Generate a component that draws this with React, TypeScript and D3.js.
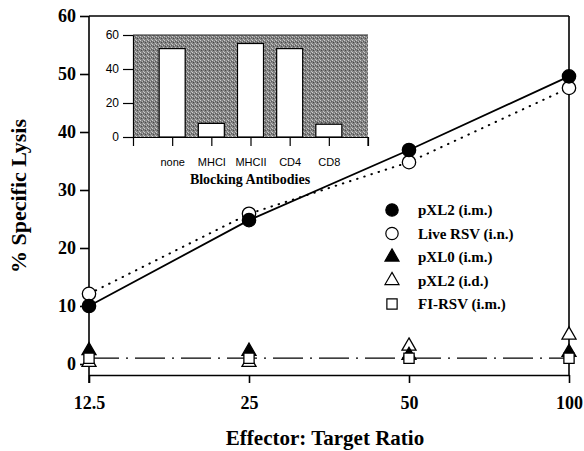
import { useEffect, useRef } from "react"
import * as d3 from "d3"

const ratios = [12.5, 25, 50, 100]
const pxl2Im = [10, 24.8, 36.9, 49.6]
const liveRsv = [12.1, 25.9, 34.8, 47.6]
const pxl0Im = [2.3, 2.2, 1.5, 2.0]
const pxl2Id = [0.3, 0.3, 3.1, 5.0]
const fiRsv = [1, 1, 1, 1]

const yTicks = [0, 10, 20, 30, 40, 50, 60]

const blockers = ["none", "MHCI", "MHCII", "CD4", "CD8"]
const blockLysis = [52, 8, 55, 52, 7.5]
const insetTicks = [0, 20, 40, 60]

const legendNames = ["pXL2 (i.m.)", "Live RSV (i.n.)", "pXL0 (i.m.)", "pXL2 (i.d.)", "FI-RSV (i.m.)"]

const serif = "'Liberation Serif', 'Times New Roman', serif"
const sans = "'Liberation Sans', Arial, sans-serif"

export default function App() {
  const svgRef = useRef<SVGSVGElement>(null)

  useEffect(() => {
    if (!svgRef.current) return
    const svg = d3.select(svgRef.current)
    svg.selectAll("*").remove()

    // stipple for inset background
    const defs = svg.append("defs")
    const pat = defs
      .append("pattern")
      .attr("id", "stipple")
      .attr("width", 4)
      .attr("height", 4)
      .attr("patternUnits", "userSpaceOnUse")
    pat.append("rect").attr("width", 4).attr("height", 4).attr("fill", "#828282")
    pat.append("rect").attr("x", 0).attr("y", 0).attr("width", 1).attr("height", 1).attr("fill", "#cfcfcf")
    pat.append("rect").attr("x", 2).attr("y", 1).attr("width", 1).attr("height", 1).attr("fill", "#b8b8b8")
    pat.append("rect").attr("x", 1).attr("y", 2).attr("width", 1).attr("height", 1).attr("fill", "#4a4a4a")
    pat.append("rect").attr("x", 3).attr("y", 3).attr("width", 1).attr("height", 1).attr("fill", "#c0c0c0")
    pat.append("rect").attr("x", 3).attr("y", 1).attr("width", 1).attr("height", 1).attr("fill", "#5a5a5a")

    const x = d3.scaleLog().domain([12.5, 100]).range([89, 569])
    const y = d3.scaleLinear().domain([0, 60]).range([364, 16])
    const yBottom = 375

    const g = svg.append("g")

    // frame
    g.append("line").attr("x1", 89).attr("x2", 569).attr("y1", y(60)).attr("y2", y(60)).attr("stroke", "#000").attr("stroke-width", 1.6)
    g.append("line").attr("x1", 569).attr("x2", 569).attr("y1", y(60)).attr("y2", yBottom).attr("stroke", "#000").attr("stroke-width", 1.6)

    // y axis
    const yAxis = g
      .append("g")
      .attr("transform", "translate(89,0)")
      .call(d3.axisLeft(y).tickValues(yTicks).tickSize(9).tickSizeOuter(0).tickPadding(4))
    yAxis.select(".domain").remove()
    yAxis.selectAll("line").attr("stroke-width", 1.6)
    yAxis.selectAll("text").attr("font-family", serif).attr("font-size", 18).attr("font-weight", "bold")
    g.append("line").attr("x1", 89).attr("x2", 89).attr("y1", y(60)).attr("y2", yBottom + 8).attr("stroke", "#000").attr("stroke-width", 1.6)

    // x axis
    const xAxis = g
      .append("g")
      .attr("transform", `translate(0,${yBottom})`)
      .call(d3.axisBottom(x).tickValues(ratios).tickFormat((d) => String(d)).tickSize(8).tickSizeOuter(0).tickPadding(13))
    xAxis.select(".domain").attr("stroke-width", 1.6)
    xAxis.selectAll("line").attr("stroke-width", 1.6)
    xAxis.selectAll("text").attr("font-family", serif).attr("font-size", 18).attr("font-weight", "bold")

    g.append("text")
      .attr("x", 325)
      .attr("y", 445)
      .attr("text-anchor", "middle")
      .attr("font-family", serif)
      .attr("font-size", 21)
      .attr("font-weight", "bold")
      .text("Effector: Target Ratio")

    g.append("text")
      .attr("transform", "translate(26,196) rotate(-90)")
      .attr("text-anchor", "middle")
      .attr("font-family", serif)
      .attr("font-size", 22)
      .attr("font-weight", "bold")
      .text("% Specific Lysis")

    // lines
    const line = (vals: number[]) =>
      d3
        .line<number>()
        .x((_, i) => x(ratios[i]))
        .y((d) => y(d))(vals)

    g.append("path").attr("d", line(fiRsv)).attr("fill", "none").attr("stroke", "#000").attr("stroke-width", 1.2).attr("stroke-dasharray", "30,7,2,7")
    g.append("path").attr("d", line(liveRsv)).attr("fill", "none").attr("stroke", "#000").attr("stroke-width", 2).attr("stroke-linecap", "round").attr("stroke-dasharray", "0.5,7")
    g.append("path").attr("d", line(pxl2Im)).attr("fill", "none").attr("stroke", "#000").attr("stroke-width", 1.8)

    const tri = d3.symbol().type(d3.symbolTriangle).size(85)
    const sq = d3.symbol().type(d3.symbolSquare).size(105)

    const markers = (vals: number[], kind: string, filled: boolean) => {
      g.append("g")
        .selectAll("path")
        .data(vals)
        .enter()
        .append("path")
        .attr("transform", (d, i) => `translate(${x(ratios[i])},${y(d)})`)
        .attr("d", kind === "tri" ? tri() : kind === "sq" ? sq() : d3.symbol().type(d3.symbolCircle).size(140)())
        .attr("fill", filled ? "#000" : "#fff")
        .attr("stroke", "#000")
        .attr("stroke-width", 1.3)
    }
    markers(pxl2Id, "tri", false)
    markers(pxl0Im, "tri", true)
    markers(fiRsv, "sq", false)
    markers(liveRsv, "circ", false)
    markers(pxl2Im, "circ", true)

    // legend
    const legendKinds = [
      ["circ", true],
      ["circ", false],
      ["tri", true],
      ["tri", false],
      ["sq", false],
    ] as const
    const leg = g.append("g")
    legendNames.forEach((name, i) => {
      const ly = 210 + i * 23.5
      const [kind, filled] = legendKinds[i]
      leg
        .append("path")
        .attr("transform", `translate(392,${ly})`)
        .attr("d", kind === "tri" ? tri() : kind === "sq" ? sq() : d3.symbol().type(d3.symbolCircle).size(120)())
        .attr("fill", filled ? "#000" : "#fff")
        .attr("stroke", "#000")
        .attr("stroke-width", 1.2)
      leg
        .append("text")
        .attr("x", 418)
        .attr("y", ly + 5)
        .attr("font-family", serif)
        .attr("font-size", 15)
        .attr("font-weight", "bold")
        .text(name)
    })

    // inset
    const ix = d3.scalePoint<string>().domain(blockers).range([133, 368]).padding(1)
    const iy = d3.scaleLinear().domain([0, 60]).range([137, 35])
    const inset = svg.append("g")
    inset.append("rect").attr("x", 133).attr("y", iy(60)).attr("width", 235).attr("height", iy(0) - iy(60)).attr("fill", "url(#stipple)")
    inset.append("line").attr("x1", 133).attr("x2", 368).attr("y1", iy(60)).attr("y2", iy(60)).attr("stroke", "#222").attr("stroke-width", 1)
    inset
      .selectAll("rect.bar")
      .data(blockLysis)
      .enter()
      .append("rect")
      .attr("class", "bar")
      .attr("x", (_, i) => (ix(blockers[i]) as number) - 13)
      .attr("width", 26)
      .attr("y", (d) => iy(d))
      .attr("height", (d) => iy(0) - iy(d))
      .attr("fill", "#fff")
      .attr("stroke", "#000")
      .attr("stroke-width", 1.2)

    const iyAxis = inset
      .append("g")
      .attr("transform", "translate(133,0)")
      .call(d3.axisLeft(iy).tickValues(insetTicks).tickSize(10).tickSizeOuter(0).tickPadding(4))
    iyAxis.select(".domain").attr("stroke-width", 1.2)
    iyAxis.selectAll("line").attr("stroke-width", 1.2)
    iyAxis.selectAll("text").attr("font-family", sans).attr("font-size", 12)

    const ixAxis = inset
      .append("g")
      .attr("transform", `translate(0,${iy(0)})`)
      .call(d3.axisBottom(ix).tickSize(9).tickSizeOuter(9).tickPadding(12))
    ixAxis.select(".domain").attr("stroke-width", 1.2)
    ixAxis.selectAll("line").attr("stroke-width", 1.2)
    ixAxis.selectAll("text").attr("font-family", sans).attr("font-size", 11)
    inset.append("line").attr("x1", 368).attr("x2", 368).attr("y1", iy(0)).attr("y2", iy(0) + 9).attr("stroke", "#000").attr("stroke-width", 1.2)

    inset
      .append("text")
      .attr("x", 250)
      .attr("y", 184)
      .attr("text-anchor", "middle")
      .attr("font-family", serif)
      .attr("font-size", 14)
      .attr("font-weight", "bold")
      .text("Blocking Antibodies")
  }, [])

  return (
    <svg
      ref={svgRef}
      width={584}
      height={451}
      style={{ position: "absolute", left: 0, top: 0, background: "#fff" }}
    />
  )
}
